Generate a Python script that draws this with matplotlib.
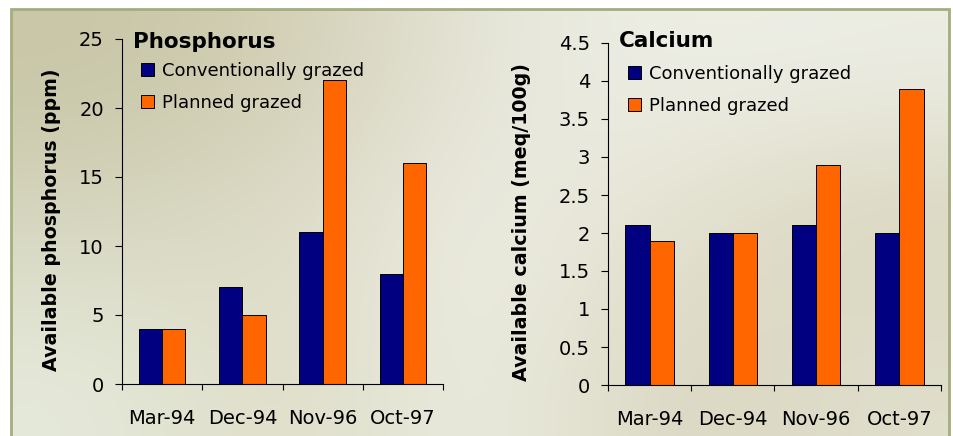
import numpy as np
import matplotlib.pyplot as plt
from matplotlib.colors import to_rgb
from matplotlib.patches import Rectangle

# data
dates = ["Mar-94", "Dec-94", "Nov-96", "Oct-97"]
phos_conv = [4, 7, 11, 8]
phos_planned = [4, 5, 22, 16]
calc_conv = [2.1, 2.0, 2.1, 2.0]
calc_planned = [1.9, 2.0, 2.9, 3.9]

series_names = ["Conventionally grazed", "Planned grazed"]
navy = "#000080"
orange = "#ff6600"

W, H = 954, 436
fig = plt.figure(figsize=(W / 100, H / 100), dpi=100)
fig.patch.set_facecolor("white")

# textured beige background (coarse colour grid, smoothed)
bg_grid = [
    ["#c8c6a6", "#d2cfb4", "#e6e6da", "#eeefe6", "#ecede4"],
    ["#d6d6c0", "#dedcc8", "#eeeee6", "#e4e2d0", "#d8d4bc"],
    ["#e6eadb", "#dcdac4", "#eef0e6", "#d8d5be", "#e0dfcc"],
]
bg = np.array([[to_rgb(c) for c in row] for row in bg_grid])
bg_ax = fig.add_axes([12 / W, 0, (949 - 12) / W, (H - 10) / H])
bg_ax.imshow(bg, aspect="auto", interpolation="bicubic", extent=(0, 1, 0, 1))
bg_ax.set_xlim(0, 1)
bg_ax.set_ylim(0, 1)
bg_ax.axis("off")
fig.patches.append(Rectangle((11.5 / W, -0.01), (938 / W), (H - 9.5) / H + 0.01,
                             transform=fig.transFigure, fill=False,
                             ec="#a4ad7c", lw=2, zorder=5))


def make_panel(rect_px, conv, planned, ymax, ystep, ylabel, title,
               ylabel_xy, title_xy, legend_xy):
    x0, y_top, x1, y_bot = rect_px
    ax = fig.add_axes([x0 / W, (H - y_bot) / H, (x1 - x0) / W, (y_bot - y_top) / H])
    ax.patch.set_alpha(0)
    x = np.arange(len(dates))
    bw = 0.29
    ax.bar(x - bw / 2, conv, bw, color=navy, ec="black", lw=0.7,
           label=series_names[0])
    ax.bar(x + bw / 2, planned, bw, color=orange, ec="black", lw=0.7,
           label=series_names[1])
    ax.set_xlim(-0.5, len(dates) - 0.5)
    ax.set_ylim(0, ymax)
    ticks = np.arange(0, ymax + ystep / 2, ystep)
    ax.set_yticks(ticks)
    ax.set_yticklabels([f"{t:g}" for t in ticks], fontsize=14)
    ax.tick_params(axis="y", length=5, width=0.8, pad=8)
    ax.set_xticks(np.arange(len(dates) + 1) - 0.5)
    ax.set_xticklabels([])
    ax.tick_params(axis="x", which="major", length=4, width=0.8)
    ax.set_xticks(x, minor=True)
    ax.set_xticklabels(dates, minor=True, fontsize=14)
    ax.tick_params(axis="x", which="minor", length=0, pad=18)
    for s in ["top", "right"]:
        ax.spines[s].set_visible(False)
    for s in ["left", "bottom"]:
        ax.spines[s].set_linewidth(0.8)
    fig.text(ylabel_xy[0] / W, 1 - ylabel_xy[1] / H, ylabel,
             rotation=90, ha="center", va="center", fontsize=13.7,
             fontweight="bold")
    fig.text(title_xy[0] / W, 1 - title_xy[1] / H, title, ha="left",
             va="center", fontsize=15.5, fontweight="bold")
    fig.legend(*ax.get_legend_handles_labels(), loc="upper left",
               bbox_to_anchor=(legend_xy[0] / W, 1 - legend_xy[1] / H),
               frameon=False, fontsize=13, handlelength=0.7,
               handleheight=0.7, handletextpad=0.45, labelspacing=0.78,
               borderpad=0, borderaxespad=0)
    return ax


make_panel((122, 39, 443, 384), phos_conv, phos_planned, 25, 5,
           "Available phosphorus (ppm)", "Phosphorus",
           (52, 220), (133, 42), (141, 62))
make_panel((608, 43, 941, 385), calc_conv, calc_planned, 4.5, 0.5,
           "Available calcium (meq/100g)", "Calcium",
           (522, 222), (619, 41), (628, 65))

fig.savefig("out.png", dpi=100)
